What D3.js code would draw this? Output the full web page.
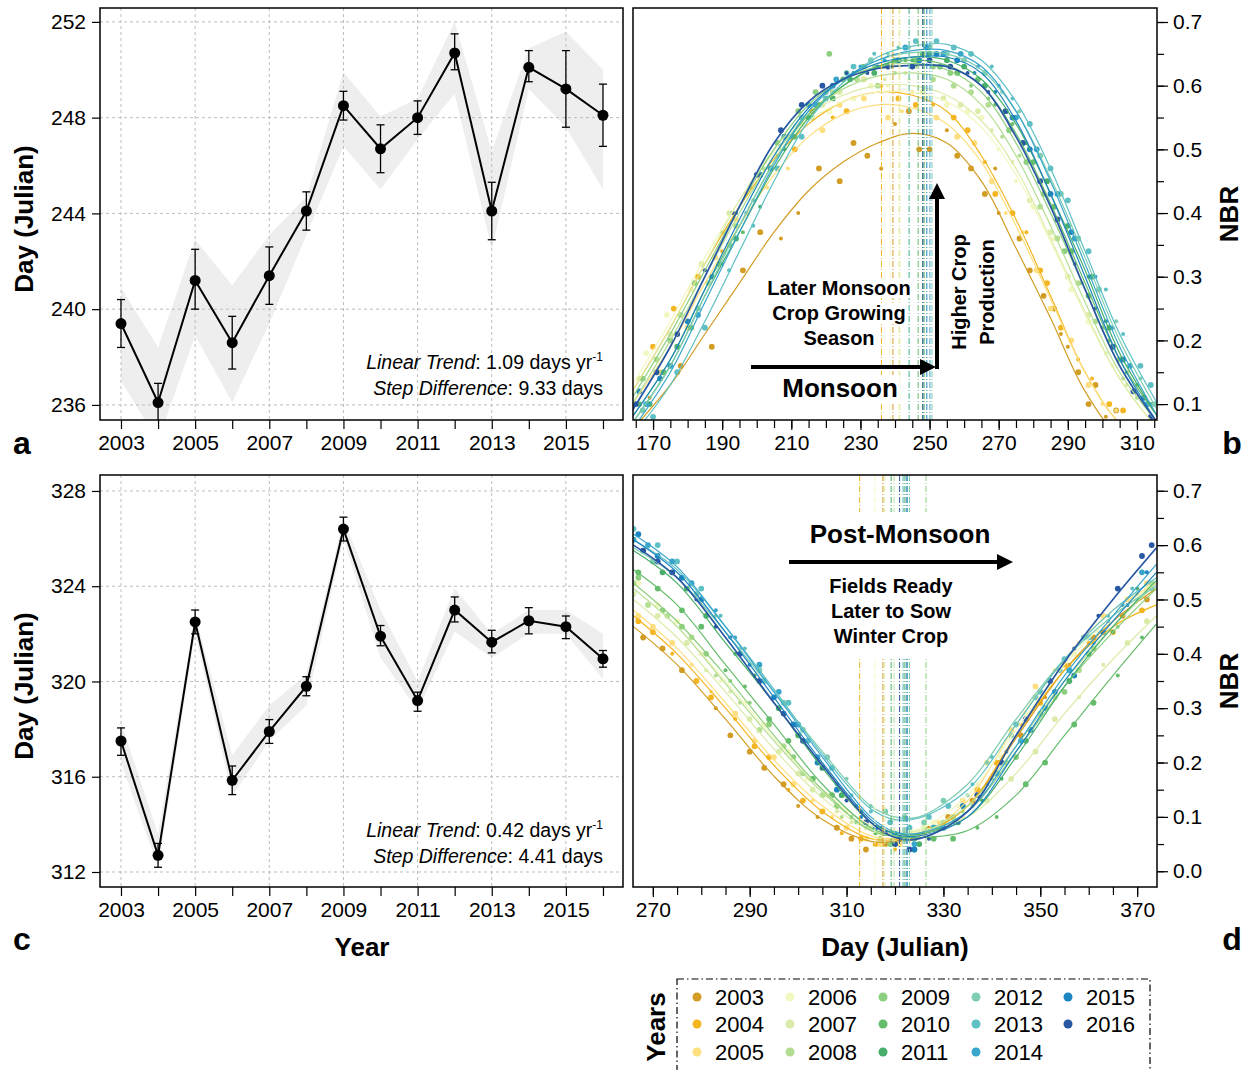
<!DOCTYPE html>
<html>
<head>
<meta charset="utf-8">
<script src="https://cdn.jsdelivr.net/npm/d3@7"></script>
<style>
  body { margin: 0; background: #fff; }
  svg { font-family: "Liberation Sans", Arial, sans-serif; }
</style>
</head>
<body>
<div id="chart"></div>
<script>
'use strict';

// ---- data ----
const years = [2003, 2004, 2005, 2006, 2007, 2008, 2009, 2010, 2011, 2012, 2013, 2014, 2015, 2016];
const yearColors = ['#d29d24', '#f3b520', '#fddf80', '#f3f7c0', '#dbecaa', '#b3de92', '#8ccf7e', '#66bd6c',
                    '#48af6a', '#7fcdb3', '#5ec0c4', '#38a5cb', '#1c84c0', '#2857a3'];

// panel a: peak (monsoon) day
const peakDay    = [239.4, 236.1, 241.2, 238.6, 241.4, 244.1, 248.5, 246.7, 248.0, 250.7, 244.1, 250.1, 249.2, 248.1];
const peakErrLo  = [238.4, 235.3, 240.0, 237.5, 240.2, 243.3, 247.9, 245.7, 247.3, 250.0, 242.9, 249.5, 247.6, 246.8];
const peakErrHi  = [240.4, 236.9, 242.5, 239.7, 242.6, 244.9, 249.1, 247.7, 248.7, 251.5, 245.3, 250.8, 250.8, 249.4];
const peakBandLo = [237.0, 234.5, 238.9, 236.1, 239.4, 243.1, 246.8, 245.0, 247.1, 249.0, 242.5, 249.2, 247.6, 245.0];
const peakBandHi = [240.9, 238.4, 242.9, 241.0, 243.1, 244.7, 249.9, 248.05, 248.8, 252.0, 246.6, 250.9, 251.6, 250.0];

// panel c: trough (post-monsoon) day
const troughDay    = [317.5, 312.7, 322.5, 315.85, 317.9, 319.8, 326.4, 321.9, 319.2, 323.0, 321.65, 322.55, 322.3, 320.95];
const troughErrLo  = [316.9, 312.2, 322.0, 315.25, 317.4, 319.4, 325.9, 321.5, 318.75, 322.5, 321.2, 322.0, 321.8, 320.6];
const troughErrHi  = [318.05, 313.2, 323.0, 316.45, 318.4, 320.2, 326.9, 322.35, 319.55, 323.55, 322.15, 323.1, 322.75, 321.3];
const troughBandLo = [316.6, 312.2, 322.0, 315.2, 317.5, 319.0, 326.0, 321.0, 318.8, 322.1, 321.0, 322.0, 322.0, 320.1];
const troughBandHi = [318.3, 313.6, 322.8, 316.9, 319.0, 320.3, 326.8, 323.0, 320.0, 323.9, 322.0, 323.0, 323.0, 322.0];

// panel b: fitted NBR curves (read at these days)
const peakCurveDays = [164, 175, 185, 195, 205, 215, 225, 235, 245, 255, 265, 275, 285, 295, 305, 316];
const peakCurves = [
  [0.06, 0.13, 0.21, 0.29, 0.37, 0.435, 0.48, 0.51, 0.525, 0.51, 0.45, 0.345, 0.235, 0.12, 0.05, 0.03],
  [0.12, 0.22, 0.32, 0.41, 0.485, 0.54, 0.575, 0.59, 0.585, 0.56, 0.49, 0.39, 0.27, 0.15, 0.07, 0.03],
  [0.10, 0.19, 0.29, 0.38, 0.46, 0.52, 0.555, 0.57, 0.565, 0.54, 0.48, 0.38, 0.265, 0.15, 0.07, 0.03],
  [0.13, 0.23, 0.33, 0.42, 0.495, 0.545, 0.575, 0.59, 0.59, 0.575, 0.535, 0.46, 0.355, 0.24, 0.14, 0.06],
  [0.12, 0.22, 0.32, 0.42, 0.50, 0.555, 0.585, 0.60, 0.60, 0.585, 0.545, 0.47, 0.36, 0.245, 0.14, 0.06],
  [0.10, 0.20, 0.30, 0.40, 0.49, 0.555, 0.595, 0.615, 0.62, 0.61, 0.57, 0.49, 0.38, 0.26, 0.15, 0.07],
  [0.11, 0.21, 0.31, 0.41, 0.50, 0.57, 0.61, 0.63, 0.635, 0.625, 0.59, 0.51, 0.40, 0.28, 0.16, 0.07],
  [0.08, 0.17, 0.28, 0.38, 0.48, 0.555, 0.60, 0.63, 0.64, 0.632, 0.60, 0.525, 0.415, 0.29, 0.17, 0.08],
  [0.07, 0.16, 0.27, 0.37, 0.47, 0.55, 0.60, 0.63, 0.645, 0.64, 0.61, 0.54, 0.43, 0.31, 0.18, 0.08],
  [0.07, 0.16, 0.27, 0.38, 0.48, 0.56, 0.61, 0.64, 0.652, 0.65, 0.625, 0.56, 0.455, 0.33, 0.20, 0.09],
  [0.05, 0.13, 0.23, 0.34, 0.45, 0.545, 0.605, 0.645, 0.662, 0.665, 0.64, 0.575, 0.47, 0.34, 0.21, 0.10],
  [0.06, 0.15, 0.26, 0.37, 0.475, 0.56, 0.61, 0.64, 0.655, 0.655, 0.63, 0.56, 0.45, 0.32, 0.19, 0.08],
  [0.08, 0.17, 0.28, 0.39, 0.49, 0.565, 0.61, 0.635, 0.645, 0.645, 0.62, 0.545, 0.43, 0.30, 0.17, 0.07],
  [0.09, 0.19, 0.30, 0.41, 0.51, 0.575, 0.61, 0.627, 0.632, 0.63, 0.60, 0.52, 0.41, 0.28, 0.16, 0.07]
];

// panel d: fitted NBR curves
const troughCurveDays = [266, 275, 285, 295, 305, 315, 320, 325, 335, 345, 355, 365, 374];
const troughCurves = [
  [0.45, 0.38, 0.28, 0.175, 0.095, 0.055, 0.055, 0.065, 0.12, 0.245, 0.37, 0.46, 0.52],
  [0.47, 0.40, 0.30, 0.195, 0.11, 0.06, 0.058, 0.065, 0.12, 0.25, 0.37, 0.45, 0.49],
  [0.48, 0.41, 0.31, 0.205, 0.12, 0.065, 0.06, 0.065, 0.13, 0.27, 0.39, 0.48, 0.53],
  [0.52, 0.45, 0.35, 0.245, 0.15, 0.085, 0.075, 0.078, 0.14, 0.26, 0.38, 0.47, 0.53],
  [0.50, 0.43, 0.33, 0.225, 0.135, 0.075, 0.07, 0.075, 0.10, 0.18, 0.29, 0.39, 0.47],
  [0.52, 0.45, 0.345, 0.24, 0.145, 0.075, 0.065, 0.07, 0.12, 0.23, 0.35, 0.45, 0.53],
  [0.53, 0.46, 0.36, 0.25, 0.15, 0.075, 0.065, 0.068, 0.11, 0.22, 0.34, 0.44, 0.52],
  [0.555, 0.49, 0.38, 0.27, 0.16, 0.08, 0.065, 0.062, 0.075, 0.14, 0.25, 0.36, 0.455],
  [0.59, 0.53, 0.42, 0.31, 0.19, 0.09, 0.07, 0.068, 0.10, 0.21, 0.34, 0.45, 0.535],
  [0.595, 0.54, 0.44, 0.33, 0.22, 0.12, 0.10, 0.10, 0.16, 0.28, 0.39, 0.47, 0.525],
  [0.61, 0.555, 0.45, 0.335, 0.215, 0.115, 0.095, 0.098, 0.15, 0.27, 0.39, 0.48, 0.54],
  [0.62, 0.56, 0.45, 0.33, 0.21, 0.10, 0.072, 0.07, 0.11, 0.23, 0.36, 0.47, 0.565],
  [0.61, 0.55, 0.44, 0.32, 0.20, 0.095, 0.068, 0.065, 0.10, 0.22, 0.35, 0.46, 0.55],
  [0.60, 0.54, 0.43, 0.31, 0.195, 0.09, 0.062, 0.06, 0.11, 0.25, 0.385, 0.50, 0.595]
];

// NBR observations [day, NBR], one list per year
const peakPoints = [
  [[178,0.16],[196,0.31],[207,0.36],[218,0.47],[232,0.49],[240,0.54],[250,0.50],[262,0.47],[270,0.40],[276,0.36],[283,0.27],[290,0.19],[298,0.13],[304,0.09],
   [169,0.11],[187,0.19],[201,0.37],[212,0.40],[224,0.45],[228,0.51],[236,0.47],[244,0.56],[247,0.50],[255,0.53],[258,0.49],[266,0.43],[269,0.47],[279,0.31],[286,0.25],[288,0.21],[293,0.15],[296,0.10],[301,0.08]],
  [[170,0.19],[183,0.30],[197,0.43],[211,0.50],[226,0.56],[236,0.60],[246,0.57],[257,0.55],[266,0.48],[274,0.40],[284,0.29],[293,0.17],[302,0.10],
   [176,0.25],[190,0.34],[204,0.47],[216,0.56],[222,0.55],[231,0.61],[241,0.58],[251,0.57],[261,0.53],[269,0.43],[278,0.37],[282,0.31],[288,0.22],[297,0.14],[306,0.09]],
  [[172,0.15],[188,0.33],[203,0.44],[219,0.53],[231,0.58],[242,0.56],[252,0.55],[263,0.51],[272,0.40],[281,0.31],[291,0.20],[300,0.10],
   [180,0.22],[194,0.39],[209,0.47],[224,0.57],[238,0.55],[245,0.59],[258,0.52],[268,0.45],[277,0.37],[285,0.25],[296,0.13],[304,0.09]],
  [[168,0.18],[181,0.28],[199,0.44],[214,0.55],[228,0.58],[238,0.60],[249,0.58],[261,0.56],[270,0.50],[280,0.41],[291,0.28],[303,0.16],
   [174,0.24],[191,0.37],[206,0.51],[221,0.56],[233,0.60],[244,0.61],[255,0.57],[265,0.55],[275,0.45],[286,0.36],[296,0.23],[309,0.12]],
  [[166,0.14],[184,0.32],[200,0.46],[213,0.54],[224,0.59],[237,0.61],[248,0.59],[259,0.57],[268,0.53],[279,0.42],[290,0.30],[301,0.18],
   [175,0.21],[192,0.40],[207,0.50],[219,0.57],[231,0.61],[243,0.62],[254,0.58],[264,0.56],[274,0.48],[285,0.37],[296,0.24],[307,0.13]],
  [[171,0.17],[186,0.29],[202,0.47],[216,0.55],[229,0.61],[240,0.62],[251,0.61],[262,0.59],[271,0.52],[282,0.41],[293,0.29],[306,0.14],
   [178,0.24],[194,0.38],[209,0.52],[222,0.59],[235,0.60],[246,0.63],[257,0.60],[267,0.57],[276,0.49],[287,0.36],[298,0.23],[310,0.11]],
  [[167,0.14],[182,0.29],[198,0.44],[212,0.56],[221,0.65],[234,0.63],[246,0.64],[256,0.62],[267,0.58],[278,0.48],[289,0.34],[300,0.22],[309,0.12],
   [175,0.20],[190,0.37],[206,0.51],[217,0.59],[228,0.62],[240,0.64],[251,0.63],[262,0.60],[273,0.53],[283,0.43],[294,0.29],[305,0.17]],
  [[173,0.15],[189,0.32],[204,0.47],[218,0.57],[231,0.63],[243,0.64],[253,0.63],[264,0.61],[274,0.54],[286,0.41],[296,0.27],[307,0.15],
   [166,0.10],[181,0.22],[196,0.37],[211,0.52],[225,0.61],[237,0.63],[248,0.65],[258,0.62],[269,0.57],[280,0.48],[291,0.34],[302,0.20],[313,0.10]],
  [[169,0.10],[187,0.30],[201,0.41],[215,0.55],[227,0.61],[239,0.63],[250,0.65],[260,0.63],[272,0.56],[284,0.45],[297,0.30],[310,0.13],
   [177,0.19],[194,0.36],[208,0.50],[222,0.58],[234,0.62],[245,0.64],[255,0.64],[266,0.60],[278,0.51],[290,0.38],[302,0.22],[314,0.10]],
  [[175,0.16],[192,0.35],[206,0.49],[220,0.59],[233,0.64],[244,0.66],[255,0.65],[266,0.62],[276,0.56],[288,0.43],[299,0.28],[311,0.14],
   [167,0.09],[183,0.25],[199,0.42],[213,0.55],[226,0.62],[238,0.65],[250,0.66],[260,0.64],[271,0.59],[282,0.49],[293,0.36],[304,0.23],[315,0.10]],
  [[170,0.08],[185,0.22],[199,0.38],[213,0.52],[228,0.63],[241,0.66],[252,0.67],[262,0.65],[274,0.58],[285,0.47],[296,0.34],[306,0.21],[314,0.13],
   [177,0.15],[192,0.31],[206,0.47],[220,0.58],[234,0.65],[246,0.67],[257,0.66],[268,0.63],[279,0.54],[290,0.42],[301,0.28],[311,0.16]],
  [[168,0.10],[183,0.24],[197,0.40],[210,0.52],[223,0.61],[237,0.64],[249,0.66],[259,0.65],[270,0.60],[281,0.50],[292,0.36],[303,0.22],[313,0.10],
   [175,0.16],[190,0.32],[204,0.47],[217,0.57],[230,0.63],[243,0.66],[254,0.65],[264,0.63],[275,0.55],[287,0.43],[298,0.30],[308,0.16]],
  [[166,0.12],[180,0.23],[194,0.40],[208,0.52],[222,0.60],[235,0.63],[247,0.64],[258,0.64],[269,0.59],[279,0.50],[291,0.37],[301,0.23],[312,0.11],
   [172,0.14],[187,0.30],[201,0.46],[215,0.57],[228,0.62],[241,0.64],[252,0.65],[263,0.62],[274,0.55],[285,0.43],[296,0.30],[306,0.17]],
  [[165,0.10],[177,0.21],[193,0.40],[207,0.53],[219,0.60],[232,0.62],[245,0.63],[256,0.63],[267,0.59],[277,0.51],[287,0.39],[298,0.25],[309,0.12],
   [171,0.15],[185,0.31],[200,0.46],[213,0.57],[226,0.62],[238,0.63],[250,0.64],[261,0.62],[272,0.56],[282,0.45],[292,0.32],[303,0.19],[314,0.08]]
];
const troughPoints = [
  [[268,0.43],[276,0.37],[283,0.30],[290,0.22],[297,0.16],[304,0.10],[311,0.06],[318,0.05],[327,0.08],[336,0.13],[346,0.25],[356,0.38],[367,0.47],
   [272,0.41],[279,0.35],[286,0.25],[293,0.19],[300,0.12],[308,0.08],[314,0.04],[322,0.06],[331,0.10],[341,0.20],[351,0.32],[361,0.43],[372,0.50]],
  [[270,0.44],[279,0.35],[287,0.28],[294,0.21],[301,0.13],[309,0.07],[316,0.05],[323,0.06],[332,0.10],[341,0.20],[350,0.31],[360,0.42],[371,0.48],
   [267,0.46],[274,0.40],[282,0.32],[291,0.23],[298,0.15],[305,0.11],[313,0.06],[320,0.04],[328,0.08],[337,0.15],[346,0.27],[355,0.38],[365,0.44]],
  [[267,0.47],[274,0.42],[282,0.33],[291,0.24],[299,0.16],[307,0.10],[314,0.06],[321,0.05],[329,0.09],[339,0.20],[349,0.34],[358,0.42],[368,0.50],
   [270,0.45],[278,0.38],[287,0.29],[295,0.21],[303,0.13],[310,0.08],[317,0.05],[325,0.07],[334,0.13],[344,0.26],[353,0.37],[363,0.47],[372,0.53]],
  [[271,0.49],[280,0.40],[289,0.31],[298,0.22],[306,0.14],[313,0.09],[320,0.06],[328,0.09],[337,0.16],[347,0.29],[357,0.40],[369,0.50],
   [267,0.53],[275,0.46],[284,0.35],[293,0.27],[302,0.17],[310,0.11],[317,0.07],[324,0.07],[333,0.12],[342,0.21],[352,0.34],[362,0.44],[372,0.52]],
  [[266,0.51],[277,0.42],[286,0.33],[296,0.22],[303,0.15],[311,0.09],[319,0.07],[326,0.08],[334,0.10],[344,0.17],[353,0.28],[363,0.38],[372,0.46],
   [271,0.47],[281,0.37],[290,0.28],[300,0.18],[308,0.11],[315,0.08],[323,0.07],[330,0.08],[339,0.13],[349,0.22],[358,0.32],[368,0.42]],
  [[269,0.49],[278,0.43],[288,0.31],[297,0.23],[305,0.14],[314,0.08],[322,0.06],[330,0.09],[338,0.15],[348,0.26],[358,0.37],[370,0.51],
   [266,0.53],[273,0.47],[283,0.36],[292,0.26],[301,0.18],[309,0.10],[317,0.06],[326,0.07],[334,0.11],[343,0.20],[353,0.32],[363,0.44],[373,0.53]],
  [[272,0.48],[281,0.40],[290,0.31],[299,0.21],[308,0.12],[316,0.07],[324,0.06],[332,0.10],[340,0.17],[350,0.29],[361,0.41],[373,0.52],
   [267,0.54],[276,0.45],[286,0.35],[294,0.27],[303,0.17],[311,0.10],[319,0.05],[328,0.08],[336,0.12],[345,0.21],[355,0.33],[366,0.45]],
  [[267,0.55],[276,0.48],[285,0.37],[294,0.28],[303,0.17],[312,0.09],[320,0.05],[328,0.06],[337,0.08],[347,0.16],[357,0.27],[366,0.36],
   [271,0.52],[280,0.45],[289,0.34],[298,0.24],[307,0.14],[316,0.07],[324,0.04],[332,0.06],[341,0.10],[351,0.20],[361,0.31],[371,0.43]],
  [[268,0.59],[277,0.52],[287,0.40],[296,0.30],[305,0.19],[313,0.11],[321,0.06],[329,0.08],[338,0.13],[347,0.24],[356,0.35],[365,0.44],
   [272,0.55],[281,0.47],[291,0.36],[300,0.25],[309,0.14],[317,0.08],[325,0.05],[333,0.09],[342,0.17],[351,0.30],[360,0.40],[370,0.52]],
  [[270,0.57],[279,0.51],[288,0.41],[297,0.31],[306,0.21],[315,0.12],[322,0.10],[330,0.13],[339,0.20],[349,0.32],[359,0.43],[370,0.50],
   [266,0.61],[274,0.55],[283,0.47],[292,0.37],[301,0.26],[310,0.17],[318,0.11],[326,0.09],[335,0.14],[344,0.25],[354,0.37],[364,0.46],[373,0.52]],
  [[266,0.63],[275,0.57],[284,0.47],[293,0.35],[302,0.24],[311,0.14],[319,0.09],[327,0.10],[336,0.16],[345,0.27],[355,0.39],[364,0.47],
   [271,0.60],[280,0.52],[289,0.41],[298,0.31],[307,0.19],[315,0.11],[323,0.08],[331,0.12],[340,0.21],[350,0.33],[360,0.43],[369,0.52]],
  [[269,0.60],[278,0.53],[287,0.43],[296,0.33],[304,0.21],[312,0.12],[320,0.07],[328,0.08],[337,0.14],[346,0.24],[356,0.37],[367,0.49],
   [266,0.61],[274,0.57],[283,0.48],[292,0.38],[300,0.27],[308,0.16],[316,0.08],[324,0.05],[332,0.09],[341,0.18],[351,0.30],[361,0.42],[371,0.55]],
  [[267,0.62],[276,0.54],[286,0.43],[295,0.32],[304,0.20],[313,0.10],[321,0.06],[330,0.08],[339,0.16],[348,0.26],[357,0.36],[368,0.49],
   [271,0.58],[280,0.50],[290,0.38],[299,0.27],[308,0.15],[316,0.08],[324,0.04],[334,0.12],[343,0.22],[353,0.33],[363,0.44],[372,0.55]],
  [[268,0.59],[274,0.55],[283,0.45],[292,0.35],[301,0.24],[310,0.13],[318,0.07],[323,0.04],[333,0.09],[342,0.20],[352,0.35],[362,0.47],[371,0.58],
   [271,0.57],[279,0.50],[288,0.40],[297,0.29],[305,0.19],[314,0.09],[320,0.05],[327,0.06],[337,0.14],[347,0.28],[357,0.41],[366,0.52],[373,0.60]]
];

const peakTicks = [236, 240, 244, 248, 252];
const troughTicks = [312, 316, 320, 324, 328];
const nbrTicks = [0.1, 0.2, 0.3, 0.4, 0.5, 0.6, 0.7];
const nbrTicksD = [0.0, 0.1, 0.2, 0.3, 0.4, 0.5, 0.6, 0.7];
const dayTicksB = [170, 190, 210, 230, 250, 270, 290, 310];
const dayTicksD = [270, 290, 310, 330, 350, 370];

// ---- layout ----
const W = 1249, H = 1070;
const L = { left: 100, right: 623 };
const R = { left: 633, right: 1157 };
const topRow = { top: 8, bottom: 420 };
const botRow = { top: 475, bottom: 887 };

var svg = d3.select('#chart').append('svg').attr('width', W).attr('height', H);
var defs = svg.append('defs');

function addClip(id, x, y, w, h) {
    defs.append('clipPath').attr('id', id).append('rect')
        .attr('x', x).attr('y', y).attr('width', w).attr('height', h);
    return 'url(#' + id + ')';
}

function styleAxis(g, size) {
    g.select('.domain').remove();
    g.selectAll('.tick line').attr('stroke', '#000').attr('stroke-width', 1.2);
    g.selectAll('.tick text').attr('font-size', size || 21).attr('fill', '#000')
        .attr('font-family', '"Liberation Sans", Arial, sans-serif');
}

// ---- panels a / c ----
function yearPanel(cfg) {
    var x = d3.scaleLinear().domain([2002.434, 2016.54]).range([L.left, L.right]);
    var y = d3.scaleLinear().domain(cfg.domain).range([cfg.row.bottom, cfg.row.top]);
    var g = svg.append('g');
    var inner = g.append('g').attr('clip-path',
        addClip(cfg.id, L.left, cfg.row.top, L.right - L.left, cfg.row.bottom - cfg.row.top));

    inner.append('path').datum(years)
        .attr('d', d3.area().x(d => x(d)).y0((d, i) => y(cfg.bandLo[i])).y1((d, i) => y(cfg.bandHi[i])))
        .attr('fill', '#eeeeee');

    // dashed grid
    inner.selectAll('.gx').data(years.filter(d => d % 2 === 1)).enter().append('line')
        .attr('x1', d => x(d)).attr('x2', d => x(d))
        .attr('y1', cfg.row.top).attr('y2', cfg.row.bottom)
        .attr('stroke', '#bdbdbd').attr('stroke-dasharray', '3,3');
    inner.selectAll('.gy').data(cfg.ticks).enter().append('line')
        .attr('x1', L.left).attr('x2', L.right)
        .attr('y1', d => y(d)).attr('y2', d => y(d))
        .attr('stroke', '#bdbdbd').attr('stroke-dasharray', '3,3');

    inner.append('path').datum(years)
        .attr('d', d3.line().x(d => x(d)).y((d, i) => y(cfg.vals[i])))
        .attr('fill', 'none').attr('stroke', '#000').attr('stroke-width', 2);

    // error bars
    var eb = inner.selectAll('.eb').data(years).enter().append('g');
    eb.append('line')
        .attr('x1', d => x(d)).attr('x2', d => x(d))
        .attr('y1', (d, i) => y(cfg.lo[i])).attr('y2', (d, i) => y(cfg.hi[i]))
        .attr('stroke', '#000').attr('stroke-width', 1.3);
    eb.append('line')
        .attr('x1', d => x(d) - 4).attr('x2', d => x(d) + 4)
        .attr('y1', (d, i) => y(cfg.lo[i])).attr('y2', (d, i) => y(cfg.lo[i]))
        .attr('stroke', '#000').attr('stroke-width', 1.3);
    eb.append('line')
        .attr('x1', d => x(d) - 4).attr('x2', d => x(d) + 4)
        .attr('y1', (d, i) => y(cfg.hi[i])).attr('y2', (d, i) => y(cfg.hi[i]))
        .attr('stroke', '#000').attr('stroke-width', 1.3);
    eb.append('circle')
        .attr('cx', d => x(d)).attr('cy', (d, i) => y(cfg.vals[i])).attr('r', 5.5)
        .attr('fill', '#000');

    g.append('rect').attr('x', L.left).attr('y', cfg.row.top)
        .attr('width', L.right - L.left).attr('height', cfg.row.bottom - cfg.row.top)
        .attr('fill', 'none').attr('stroke', '#000').attr('stroke-width', 1.5);

    var ax = g.append('g').attr('transform', 'translate(0,' + cfg.row.bottom + ')')
        .call(d3.axisBottom(x).tickValues(years).tickSize(9).tickPadding(6)
            .tickFormat(d => d % 2 === 1 ? d : ''));
    styleAxis(ax);
    var ay = g.append('g').attr('transform', 'translate(' + L.left + ',0)')
        .call(d3.axisLeft(y).tickValues(cfg.ticks).tickSize(8).tickPadding(6));
    styleAxis(ay);

    g.append('text')
        .attr('transform', 'translate(33,' + ((cfg.row.top + cfg.row.bottom) / 2 + 5) + ') rotate(-90)')
        .attr('text-anchor', 'middle').attr('font-size', 26).attr('font-weight', 'bold')
        .text('Day (Julian)');

    var t1 = g.append('text').attr('x', 603).attr('y', cfg.textY).attr('text-anchor', 'end')
        .attr('font-size', 19.5);
    t1.append('tspan').attr('font-style', 'italic').text('Linear Trend');
    t1.append('tspan').text(': ' + cfg.trend + ' days yr');
    t1.append('tspan').attr('font-size', 12).attr('dy', -8).text('-1');
    var t2 = g.append('text').attr('x', 603).attr('y', cfg.textY + 26).attr('text-anchor', 'end')
        .attr('font-size', 19.5);
    t2.append('tspan').attr('font-style', 'italic').text('Step Difference');
    t2.append('tspan').text(': ' + cfg.step + ' days');
}

yearPanel({ id: 'clipA', row: topRow, domain: [235.37, 252.58], ticks: peakTicks,
    vals: peakDay, lo: peakErrLo, hi: peakErrHi, bandLo: peakBandLo, bandHi: peakBandHi,
    trend: '1.09', step: '9.33', textY: 369 });
yearPanel({ id: 'clipC', row: botRow, domain: [311.37, 328.67], ticks: troughTicks,
    vals: troughDay, lo: troughErrLo, hi: troughErrHi, bandLo: troughBandLo, bandHi: troughBandHi,
    trend: '0.42', step: '4.41', textY: 837 });

// ---- panels b / d ----
function nbrPanel(cfg) {
    var x = d3.scaleLinear().domain(cfg.xDomain).range([R.left, R.right]);
    var y = d3.scaleLinear().domain(cfg.yDomain).range([cfg.row.bottom, cfg.row.top]);
    var g = svg.append('g');
    var inner = g.append('g').attr('clip-path',
        addClip(cfg.id, R.left, cfg.row.top, R.right - R.left, cfg.row.bottom - cfg.row.top));

    cfg.points.forEach(function (pts, k) {
        inner.append('g').selectAll('circle').data(pts).enter().append('circle')
            .attr('cx', d => x(d[0])).attr('cy', d => y(d[1])).attr('r', (d, i) => i % 3 === 2 ? 2 : 2.9)
            .attr('fill', yearColors[k]);
    });

    var line = d3.line().curve(d3.curveCatmullRom.alpha(0.5))
        .x((d, i) => x(cfg.curveDays[i])).y(d => y(d));
    cfg.curves.forEach(function (c, k) {
        inner.append('path').datum(c).attr('d', line)
            .attr('fill', 'none').attr('stroke', yearColors[k])
            .attr('stroke-width', k === 13 ? 1.7 : 1.2);
    });

    inner.selectAll('.vl').data(years).enter().append('line')
        .attr('x1', (d, i) => x(cfg.marks[i])).attr('x2', (d, i) => x(cfg.marks[i]))
        .attr('y1', cfg.row.top).attr('y2', cfg.row.bottom)
        .attr('stroke', (d, i) => yearColors[i]).attr('stroke-width', 1)
        .attr('stroke-dasharray', '6,2,1,2');

    g.append('rect').attr('x', R.left).attr('y', cfg.row.top)
        .attr('width', R.right - R.left).attr('height', cfg.row.bottom - cfg.row.top)
        .attr('fill', 'none').attr('stroke', '#000').attr('stroke-width', 1.5);

    var minorX = d3.range(cfg.xMinor[0], cfg.xMinor[1] + 1, 5);
    var axm = g.append('g').attr('transform', 'translate(0,' + cfg.row.bottom + ')')
        .call(d3.axisBottom(x).tickValues(minorX).tickSize(8).tickFormat(''));
    styleAxis(axm);
    var ax = g.append('g').attr('transform', 'translate(0,' + cfg.row.bottom + ')')
        .call(d3.axisBottom(x).tickValues(cfg.xTicks).tickSize(10).tickPadding(5));
    styleAxis(ax);

    var minorY = d3.range(cfg.yMinor[0], cfg.yMinor[1] + 0.001, 0.05);
    var aym = g.append('g').attr('transform', 'translate(' + R.right + ',0)')
        .call(d3.axisRight(y).tickValues(minorY).tickSize(7).tickFormat(''));
    styleAxis(aym);
    var ay = g.append('g').attr('transform', 'translate(' + R.right + ',0)')
        .call(d3.axisRight(y).tickValues(cfg.yTicks).tickSize(11).tickPadding(5).tickFormat(d3.format('.1f')));
    styleAxis(ay);

    g.append('text')
        .attr('transform', 'translate(1238,' + ((cfg.row.top + cfg.row.bottom) / 2) + ') rotate(-90)')
        .attr('text-anchor', 'middle').attr('font-size', 26).attr('font-weight', 'bold')
        .text('NBR');
    return g;
}

nbrPanel({ id: 'clipB', row: topRow, xDomain: [164.2, 315.8], yDomain: [0.075, 0.722],
    xTicks: dayTicksB, xMinor: [165, 315], yTicks: nbrTicks, yMinor: [0.1, 0.7],
    curveDays: peakCurveDays, curves: peakCurves, points: peakPoints, marks: peakDay });
nbrPanel({ id: 'clipD', row: botRow, xDomain: [265.9, 374.1], yDomain: [-0.029, 0.729],
    xTicks: dayTicksD, xMinor: [270, 370], yTicks: nbrTicksD, yMinor: [0.0, 0.7],
    curveDays: troughCurveDays, curves: troughCurves, points: troughPoints, marks: troughDay });

// text with white backing
function label(g, x, y, txt, size, rotate) {
    var t = g.append('text').attr('text-anchor', 'middle').attr('font-size', size)
        .attr('font-weight', 'bold').text(txt);
    if (rotate) {
        t.attr('transform', 'translate(' + x + ',' + y + ') rotate(-90)');
    } else {
        t.attr('x', x).attr('y', y);
        var bb = t.node().getBBox();
        g.insert('rect', function () { return t.node(); })
            .attr('x', bb.x - 2).attr('y', bb.y + 2).attr('width', bb.width + 4).attr('height', bb.height - 3)
            .attr('fill', '#fff');
    }
    return t;
}

function arrow(g, x1, y1, x2, y2) {
    var a = Math.atan2(y2 - y1, x2 - x1), len = 16, hw = 8;
    var bx = x2 - len * Math.cos(a), by = y2 - len * Math.sin(a);
    g.append('line').attr('x1', x1).attr('y1', y1).attr('x2', bx).attr('y2', by)
        .attr('stroke', '#000').attr('stroke-width', 4);
    g.append('path')
        .attr('d', 'M' + x2 + ',' + y2 +
            'L' + (bx + hw * Math.sin(a)) + ',' + (by - hw * Math.cos(a)) +
            'L' + (bx - hw * Math.sin(a)) + ',' + (by + hw * Math.cos(a)) + 'Z')
        .attr('fill', '#000');
}

var annB = svg.append('g');
label(annB, 839, 295, 'Later Monsoon', 20);
label(annB, 839, 320, 'Crop Growing', 20);
label(annB, 839, 345, 'Season', 20);
label(annB, 840, 397, 'Monsoon', 26);
arrow(annB, 751, 367, 936, 367);
arrow(annB, 937, 369, 937, 183);
label(annB, 966, 292, 'Higher Crop', 20, true);
label(annB, 994, 292, 'Production', 20, true);

var annD = svg.append('g');
annD.append('rect').attr('x', 786).attr('y', 512).attr('width', 228).attr('height', 146).attr('fill', '#fff');
label(annD, 900, 543, 'Post-Monsoon', 26);
arrow(annD, 789, 562, 1013, 562);
label(annD, 891, 593, 'Fields Ready', 20);
label(annD, 891, 618, 'Later to Sow', 20);
label(annD, 891, 643, 'Winter Crop', 20);

// axis titles + panel letters
svg.append('text').attr('x', 362).attr('y', 956).attr('text-anchor', 'middle')
    .attr('font-size', 26).attr('font-weight', 'bold').text('Year');
svg.append('text').attr('x', 895).attr('y', 956).attr('text-anchor', 'middle')
    .attr('font-size', 26).attr('font-weight', 'bold').text('Day (Julian)');
[['a', 22, 454], ['b', 1232, 454], ['c', 22, 950], ['d', 1232, 950]].forEach(function (p) {
    svg.append('text').attr('x', p[1]).attr('y', p[2]).attr('text-anchor', 'middle')
        .attr('font-size', 32).attr('font-weight', 'bold').text(p[0]);
});

// ---- legend ----
var leg = svg.append('g');
leg.append('rect').attr('x', 677).attr('y', 979).attr('width', 473).attr('height', 110)
    .attr('fill', 'none').attr('stroke', '#000').attr('stroke-width', 1.2)
    .attr('stroke-dasharray', '7,3,1.5,3');
leg.append('text').attr('transform', 'translate(665,1027) rotate(-90)')
    .attr('text-anchor', 'middle').attr('font-size', 26).attr('font-weight', 'bold').text('Years');
var colX = [697, 790, 883, 976, 1068];
var rowY = [997, 1024, 1052];
var items = leg.selectAll('.li').data(years).enter().append('g')
    .attr('transform', (d, i) => 'translate(' + colX[Math.floor(i / 3)] + ',' + rowY[i % 3] + ')');
items.append('circle').attr('r', 4.5).attr('fill', (d, i) => yearColors[i]);
items.append('text').attr('x', 18).attr('y', 8).attr('font-size', 22).text(d => d);
</script>
</body>
</html>
